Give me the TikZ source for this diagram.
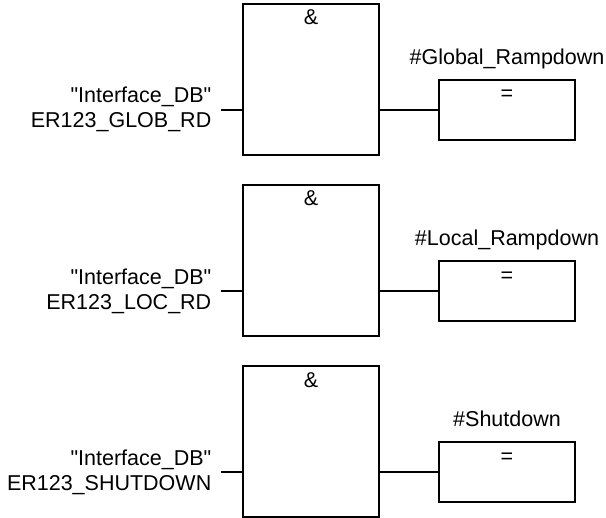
\documentclass[tikz,border=0pt]{standalone}
\usepackage{fontspec}
\setmainfont{Liberation Sans}
\begin{document}
\begin{tikzpicture}[x=1bp,y=1bp,
  every node/.style={font=\fontsize{21.5bp}{25bp}\selectfont, inner sep=0pt},
  andbox/.style={draw, line width=2bp, minimum width=136bp, minimum height=151bp},
  eqbox/.style={draw, line width=2bp, minimum width=136bp, minimum height=60bp},
  wire/.style={line width=2bp},
  txt/.style={anchor=base east},
  lbl/.style={anchor=base}]
\useasboundingbox (0,0) rectangle (606,-518);
\foreach \t/\i/\b/\o in {4/1/ER123\_GLOB\_RD/\#Global\_Rampdown,
                          185/2/ER123\_LOC\_RD/\#Local\_Rampdown,
                          366/3/ER123\_SHUTDOWN/\#Shutdown}{
  \node[andbox] (and\i) at (311,-\t-75.5) {};
  \node[lbl] (amp\i) at ([yshift=-22bp]and\i.north) {\&};
  \node[eqbox] (eq\i) at (507,-\t-106) {};
  \node[lbl] (eqs\i) at ([yshift=-22bp]eq\i.north) {=};
  \node[lbl] (out\i) at ([yshift=14.3bp]eq\i.north) {\o};
  \coordinate (in\i) at (221,-\t-106);
  \node[txt] (ina\i) at (211.5,-\t-99) {\textquotedbl Interface\_DB\textquotedbl};
  \node[txt] (inb\i) at (211.5,-\t-124) {\b};
  \draw[wire] (in\i) -- (in\i -| and\i.west);
  \draw[wire] (eq\i.west -| and\i.east) -- (eq\i.west);
}
\end{tikzpicture}
\end{document}
